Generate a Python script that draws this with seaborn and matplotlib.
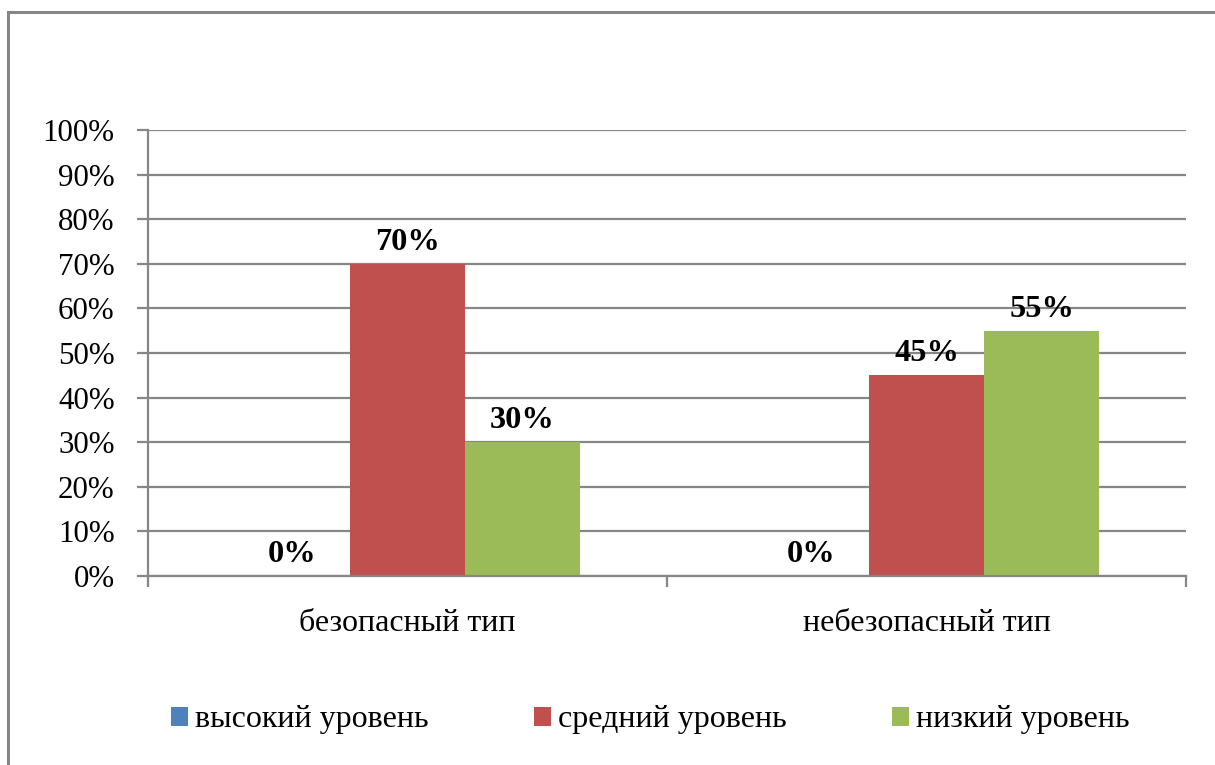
import matplotlib
matplotlib.use("Agg")
import matplotlib.pyplot as plt
import seaborn as sns
import pandas as pd
from matplotlib.patches import Rectangle
from matplotlib.ticker import FixedLocator, PercentFormatter

categories = ["безопасный тип", "небезопасный тип"]
levels = ["высокий уровень", "средний уровень", "низкий уровень"]
high = [0, 0]
medium = [70, 45]
low = [30, 55]
colors = ["#4F81BD", "#C0504D", "#9BBB59"]

rows = []
for i, c in enumerate(categories):
    for lev, vals in zip(levels, [high, medium, low]):
        rows.append({"category": c, "level": lev, "value": vals[i]})
df = pd.DataFrame(rows)

sns.set_theme(style="white")
plt.rcParams["font.family"] = ["Liberation Serif", "DejaVu Serif"]
plt.rcParams["text.color"] = "black"

grid_c = "#868686"
fig = plt.figure(figsize=(12.15, 7.65), dpi=100)
ax = fig.add_axes([148/1215, 1-576/765, (1186-148)/1215, (576-130)/765])

sns.barplot(data=df, x="category", y="value", hue="level", order=categories,
            hue_order=levels, palette=colors, width=0.665, ax=ax,
            linewidth=0, saturation=1, legend=True)

ax.set_ylim(0, 100)
ax.set_xlim(-0.5, 1.5)
ax.set_yticks(range(0, 101, 10))
ax.yaxis.set_major_formatter(PercentFormatter(decimals=0))
ax.set_axisbelow(True)
ax.yaxis.grid(True, color=grid_c, linewidth=1.6)
ax.xaxis.grid(False)
for s in ["top", "right"]:
    ax.spines[s].set_visible(False)
for s in ["left", "bottom"]:
    ax.spines[s].set_color(grid_c)
    ax.spines[s].set_linewidth(1.6)

ax.tick_params(axis="y", which="major", left=True, length=8, width=1.6,
               color=grid_c, direction="out", pad=16, labelsize=22.3,
               labelcolor="black")
ax.tick_params(axis="x", which="major", bottom=False, length=0, pad=24,
               labelsize=23, labelcolor="black")
ax.xaxis.set_minor_locator(FixedLocator([-0.5, 0.5, 1.5]))
ax.tick_params(axis="x", which="minor", bottom=True, length=8, width=1.6,
               color=grid_c, direction="out")
ax.set_xlabel("")
ax.set_ylabel("")

for cont in ax.containers:
    labels = [f"{v:.0f}%" for v in cont.datavalues]
    ax.bar_label(cont, labels=labels, padding=5, fontsize=23.3,
                 fontweight="bold", color="black")

leg = ax.legend(loc="center", bbox_to_anchor=(650/1215, 1-720/765),
                bbox_transform=fig.transFigure, ncol=3, frameon=False,
                fontsize=23, handlelength=0.53, handleheight=0.53,
                handletextpad=0.22, columnspacing=3.3, labelcolor="black")

fig.patches.append(Rectangle((8/1215, -0.05), 1.2, 1-12/765+0.05,
                             transform=fig.transFigure, fill=False,
                             edgecolor=grid_c, linewidth=2.2))

fig.savefig("out.png", dpi=100)
